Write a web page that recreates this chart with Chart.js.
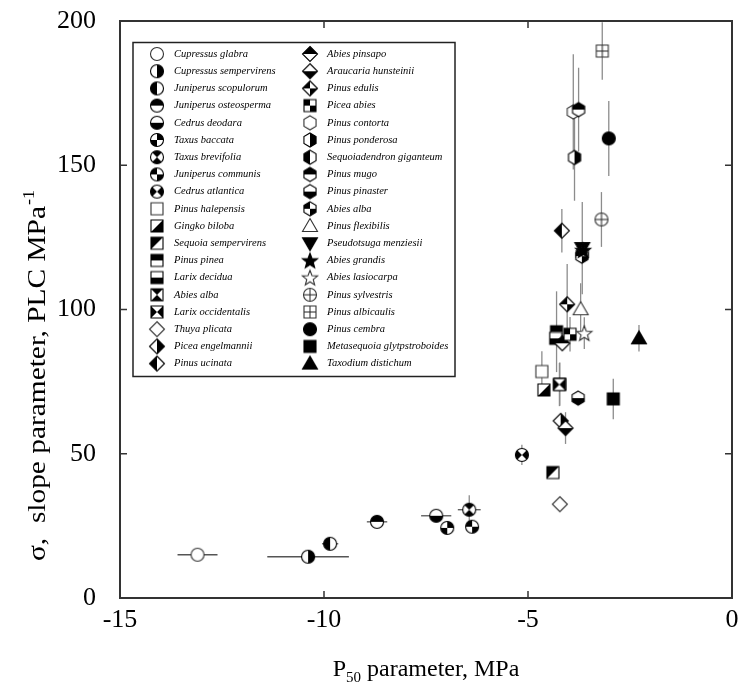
<!DOCTYPE html>
<html>
<head>
<meta charset="utf-8">
<title>P50 vs slope parameter</title>
<script src="https://cdn.jsdelivr.net/npm/chart.js@4.4.0/dist/chart.umd.min.js"></script>
<style>
    html, body { margin: 0; padding: 0; background: #fff; }
    #wrap { width: 740px; height: 688px; }
</style>
</head>
<body>
<div id="wrap"><canvas id="p50Chart" width="740" height="688"></canvas></div>
<script>
/* ---- data ---- */
const species = [
    'Cupressus glabra', 'Cupressus sempervirens', 'Juniperus scopulorum', 'Juniperus osteosperma',
    'Cedrus deodara', 'Taxus baccata', 'Taxus brevifolia', 'Juniperus communis', 'Cedrus atlantica',
    'Pinus halepensis', 'Gingko biloba', 'Sequoia sempervirens', 'Pinus pinea', 'Larix decidua',
    'Abies alba', 'Larix occidentalis', 'Thuya plicata', 'Picea engelmannii', 'Pinus ucinata',
    'Abies pinsapo', 'Araucaria hunsteinii', 'Pinus edulis', 'Picea abies', 'Pinus contorta',
    'Pinus ponderosa', 'Sequoiadendron giganteum', 'Pinus mugo', 'Pinus pinaster', 'Abies alba',
    'Pinus flexibilis', 'Pseudotsuga menziesii', 'Abies grandis', 'Abies lasiocarpa',
    'Pinus sylvestris', 'Pinus albicaulis', 'Pinus cembra', 'Metasequoia glytpstroboides',
    'Taxodium distichum'
];
const p50 = [
    -13.10, -10.39, -9.85, -8.70, -7.25, -6.98, -6.44, -6.37, -5.15,
    -4.66, -4.61, -4.39, -4.30, -4.32, -4.22, -4.23, -4.22, -4.20, -4.17,
    -4.16, -4.08, -4.04, -3.97, -3.89, -3.86, -3.67, -3.76, -3.77, -3.68,
    -3.71, -3.67, -3.65, -3.62, -3.20, -3.18, -3.02, -2.91, -2.28
];
const sigma = [
    15.0, 14.3, 18.8, 26.4, 28.5, 24.3, 30.6, 24.7, 49.6,
    78.5, 72.1, 43.5, 92.3, 90.0, 74.1, 74.0, 32.5, 61.4, 127.3,
    88.3, 58.9, 101.8, 91.4, 168.5, 152.7, 119.2, 169.3, 69.3, 118.5,
    100.1, 121.3, 120.6, 91.8, 131.2, 189.6, 159.3, 69.0, 90.0
];
const p50Err = [
    0.49, 1.0, 0.2, 0.25, 0.37, 0, 0.28, 0, 0,
    0, 0, 0, 0, 0, 0, 0, 0, 0, 0,
    0, 0, 0, 0, 0, 0, 0, 0, 0, 0,
    0, 0, 0, 0, 0, 0, 0, 0, 0
];
const sigmaErr = [
    0, 0, 0, 1.5, 0, 0, 5, 0, 3.5,
    7, 0, 0, 14, 0, 7.5, 7.5, 0, 0, 7.5,
    0, 5.5, 14, 6, 20, 15, 0, 14.5, 0, 0,
    9, 16, 0, 5.5, 9.5, 10, 13, 7, 4.6
];
const xTicks = [-15, -10, -5, 0];
const yTicks = [0, 50, 100, 150, 200];

// marker look per species (shape + which part is black)
const markerShape = [
    'circle', 'circle', 'circle', 'circle', 'circle', 'circle', 'circle', 'circle', 'circle',
    'square', 'square', 'square', 'square', 'square', 'square', 'square', 'diamond', 'diamond', 'diamond',
    'diamond', 'diamond', 'diamond', 'square', 'hex', 'hex', 'hex', 'hex', 'hex', 'hex',
    'triUp', 'triDown', 'star', 'star', 'circle', 'square', 'circle', 'square', 'triUp'
];
const markerFill = [
    'open', 'right', 'left', 'top', 'bottom', 'q24', 'vbow', 'q13', 'hbow',
    'open', 'diagBR', 'diagTL', 'top', 'bottom', 'vbow', 'hbow', 'open', 'right', 'left',
    'top', 'bottom', 'q13', 'q13', 'open', 'right', 'left', 'top', 'bottom', 'q13',
    'open', 'full', 'full', 'open', 'plus', 'plus', 'full', 'full', 'full'
];

/* ---- marker sprites ---- */
function shapePath(ctx, shape) {
    ctx.beginPath();
    if (shape === 'circle') {
        ctx.arc(0, 0, 6.5, 0, Math.PI * 2);
    } else if (shape === 'square') {
        ctx.rect(-6, -6, 12, 12);
    } else if (shape === 'diamond') {
        ctx.moveTo(0, -7.5); ctx.lineTo(7.5, 0); ctx.lineTo(0, 7.5); ctx.lineTo(-7.5, 0);
    } else if (shape === 'hex') {
        for (let k = 0; k < 6; k++) {
            const a = -Math.PI / 2 + k * Math.PI / 3;
            ctx[k ? 'lineTo' : 'moveTo'](7 * Math.cos(a), 7 * Math.sin(a));
        }
    } else if (shape === 'triUp') {
        ctx.moveTo(0, -7.5); ctx.lineTo(7.5, 5.5); ctx.lineTo(-7.5, 5.5);
    } else if (shape === 'triDown') {
        ctx.moveTo(0, 7.5); ctx.lineTo(7.5, -5.5); ctx.lineTo(-7.5, -5.5);
    } else if (shape === 'star') {
        for (let k = 0; k < 10; k++) {
            const a = -Math.PI / 2 + k * Math.PI / 5;
            const r = k % 2 ? 3.4 : 8;
            ctx[k ? 'lineTo' : 'moveTo'](r * Math.cos(a), r * Math.sin(a) + 0.8);
        }
    }
    ctx.closePath();
}

function fillPart(ctx, fill) {
    const R = 10;
    ctx.fillStyle = '#000';
    ctx.beginPath();
    switch (fill) {
        case 'full':   ctx.rect(-R, -R, 2 * R, 2 * R); break;
        case 'right':  ctx.rect(0, -R, R, 2 * R); break;
        case 'left':   ctx.rect(-R, -R, R, 2 * R); break;
        case 'top':    ctx.rect(-R, -R, 2 * R, R); break;
        case 'bottom': ctx.rect(-R, 0, 2 * R, R); break;
        case 'q13':    ctx.rect(-R, -R, R, R); ctx.rect(0, 0, R, R); break;
        case 'q24':    ctx.rect(0, -R, R, R); ctx.rect(-R, 0, R, R); break;
        case 'vbow':
            ctx.moveTo(0, 0); ctx.lineTo(-R, -R); ctx.lineTo(R, -R); ctx.closePath();
            ctx.moveTo(0, 0); ctx.lineTo(-R, R); ctx.lineTo(R, R); ctx.closePath();
            break;
        case 'hbow':
            ctx.moveTo(0, 0); ctx.lineTo(-R, -R); ctx.lineTo(-R, R); ctx.closePath();
            ctx.moveTo(0, 0); ctx.lineTo(R, -R); ctx.lineTo(R, R); ctx.closePath();
            break;
        case 'diagBR': ctx.moveTo(R, -R); ctx.lineTo(R, R); ctx.lineTo(-R, R); ctx.closePath(); break;
        case 'diagTL': ctx.moveTo(-R, -R); ctx.lineTo(R, -R); ctx.lineTo(-R, R); ctx.closePath(); break;
        default: return;
    }
    ctx.fill();
}

function makeMarker(shape, fill) {
    const c = document.createElement('canvas');
    c.width = 20; c.height = 20;
    const ctx = c.getContext('2d');
    ctx.translate(10, 10);
    shapePath(ctx, shape);
    ctx.fillStyle = '#fff';
    ctx.fill();
    ctx.save();
    shapePath(ctx, shape);
    ctx.clip();
    fillPart(ctx, fill);
    if (fill === 'plus') {
        ctx.strokeStyle = '#222';
        ctx.lineWidth = 1;
        ctx.beginPath();
        ctx.moveTo(-8, 0); ctx.lineTo(8, 0);
        ctx.moveTo(0, -8); ctx.lineTo(0, 8);
        ctx.stroke();
    }
    ctx.restore();
    shapePath(ctx, shape);
    ctx.strokeStyle = fill === 'plus' || fill === 'open' ? '#333' : '#000';
    ctx.lineWidth = 1.1;
    ctx.stroke();
    return c;
}

const markers = species.map((s, i) => makeMarker(markerShape[i], markerFill[i]));

/* ---- plugins ---- */
const errorBars = {
    id: 'errorBars',
    beforeDatasetsDraw(chart) {
        const { ctx, scales: { x, y } } = chart;
        ctx.save();
        ctx.lineWidth = 1.3;
        p50.forEach((v, i) => {
            const px = x.getPixelForValue(v);
            const py = y.getPixelForValue(sigma[i]);
            if (sigmaErr[i] > 0) {
                ctx.strokeStyle = '#8c8c8c';
                ctx.beginPath();
                ctx.moveTo(px, y.getPixelForValue(sigma[i] - sigmaErr[i]));
                ctx.lineTo(px, y.getPixelForValue(sigma[i] + sigmaErr[i]));
                ctx.stroke();
            }
            if (p50Err[i] > 0) {
                ctx.strokeStyle = '#555';
                ctx.beginPath();
                ctx.moveTo(x.getPixelForValue(v - p50Err[i]), py);
                ctx.lineTo(x.getPixelForValue(v + p50Err[i]), py);
                ctx.stroke();
            }
        });
        ctx.restore();
    }
};

const frameAndTicks = {
    id: 'frameAndTicks',
    afterDatasetsDraw(chart) {
        const { ctx, chartArea: a, scales: { x, y } } = chart;
        ctx.save();
        ctx.strokeStyle = '#333';
        ctx.lineWidth = 2;
        ctx.strokeRect(a.left, a.top, a.right - a.left, a.bottom - a.top);
        ctx.lineWidth = 1.5;
        ctx.beginPath();
        xTicks.slice(1, -1).forEach(t => {
            const px = x.getPixelForValue(t);
            ctx.moveTo(px, a.bottom); ctx.lineTo(px, a.bottom - 7);
            ctx.moveTo(px, a.top); ctx.lineTo(px, a.top + 7);
        });
        yTicks.slice(1, -1).forEach(t => {
            const py = y.getPixelForValue(t);
            ctx.moveTo(a.left, py); ctx.lineTo(a.left + 7, py);
            ctx.moveTo(a.right, py); ctx.lineTo(a.right - 7, py);
        });
        ctx.stroke();
        ctx.restore();
    }
};

const insetLegend = {
    id: 'insetLegend',
    afterDraw(chart) {
        const ctx = chart.ctx;
        const half = Math.ceil(species.length / 2);
        ctx.save();
        ctx.fillStyle = '#fff';
        ctx.fillRect(133, 42.5, 322, 334);
        ctx.strokeStyle = '#222';
        ctx.lineWidth = 1.5;
        ctx.strokeRect(133, 42.5, 322, 334);
        ctx.font = 'italic 10.5px "Liberation Serif"';
        ctx.fillStyle = '#000';
        ctx.textBaseline = 'middle';
        species.forEach((name, i) => {
            const col = i < half ? 0 : 1;
            const row = col ? i - half : i;
            const ry = 54 + row * 17.2;
            const mx = col ? 310 : 157;
            ctx.drawImage(markers[i], mx - 10, ry - 10);
            ctx.fillText(name, mx + 17, ry);
        });
        ctx.restore();
    }
};

const axisTitles = {
    id: 'axisTitles',
    afterDraw(chart) {
        const ctx = chart.ctx;
        const a = chart.chartArea;
        ctx.save();
        ctx.fillStyle = '#000';
        ctx.textBaseline = 'alphabetic';

        // x title: P50 parameter, MPa
        const big = '24px "Liberation Serif"';
        const small = '15px "Liberation Serif"';
        ctx.font = big;
        const wP = ctx.measureText('P').width;
        const wRest = ctx.measureText(' parameter, MPa').width;
        ctx.font = small;
        const wSub = ctx.measureText('50').width;
        const sx = (a.left + a.right) / 2 - (wP + wSub + wRest) / 2;
        const by = 676;
        ctx.font = big;
        ctx.fillText('P', sx, by);
        ctx.font = small;
        ctx.fillText('50', sx + wP, by + 6);
        ctx.font = big;
        ctx.fillText(' parameter, MPa', sx + wP + wSub, by);

        // y title: sigma, slope parameter, PLC MPa-1 (stretched along the axis like the original)
        ctx.translate(45, 376);
        ctx.rotate(-Math.PI / 2);
        ctx.scale(1.13, 1);
        const main = 'σ,  slope parameter, PLC MPa';
        ctx.font = '26px "Liberation Serif"';
        const wMain = ctx.measureText(main).width;
        ctx.font = '16px "Liberation Serif"';
        const wSup = ctx.measureText('-1').width;
        const start = -(wMain + wSup) / 2;
        ctx.font = '26px "Liberation Serif"';
        ctx.fillText(main, start, 0);
        ctx.font = '16px "Liberation Serif"';
        ctx.fillText('-1', start + wMain + 1, -11);
        ctx.restore();
    }
};

/* ---- chart ---- */
const tickFont = { family: 'Liberation Serif', size: 26 };

new Chart(document.getElementById('p50Chart'), {
    type: 'scatter',
    data: {
        datasets: [{
            label: 'species',
            data: p50.map((v, i) => ({ x: v, y: sigma[i] })),
            pointStyle: markers,
            pointRadius: 7,
            pointHoverRadius: 7,
        }],
    },
    options: {
        responsive: false,
        animation: false,
        devicePixelRatio: 1,
        layout: { padding: { top: 21, right: 7, left: 0, bottom: 0 } },
        plugins: {
            legend: { display: false },
            tooltip: { enabled: false },
        },
        scales: {
            x: {
                type: 'linear',
                min: -15,
                max: 0,
                afterBuildTicks: s => { s.ticks = xTicks.map(v => ({ value: v })); },
                ticks: { font: tickFont, color: '#000', padding: -1 },
                grid: { display: false },
                border: { display: false },
                afterFit: s => { s.height = 90; s.paddingLeft = 0; s.paddingRight = 0; },
            },
            y: {
                type: 'linear',
                min: 0,
                max: 200,
                afterBuildTicks: s => { s.ticks = yTicks.map(v => ({ value: v })); },
                ticks: { font: tickFont, color: '#000', padding: 16 },
                grid: { display: false },
                border: { display: false },
                afterFit: s => { s.width = 120; s.paddingTop = 0; s.paddingBottom = 0; },
            },
        },
    },
    plugins: [errorBars, frameAndTicks, insetLegend, axisTitles],
});
</script>
</body>
</html>
